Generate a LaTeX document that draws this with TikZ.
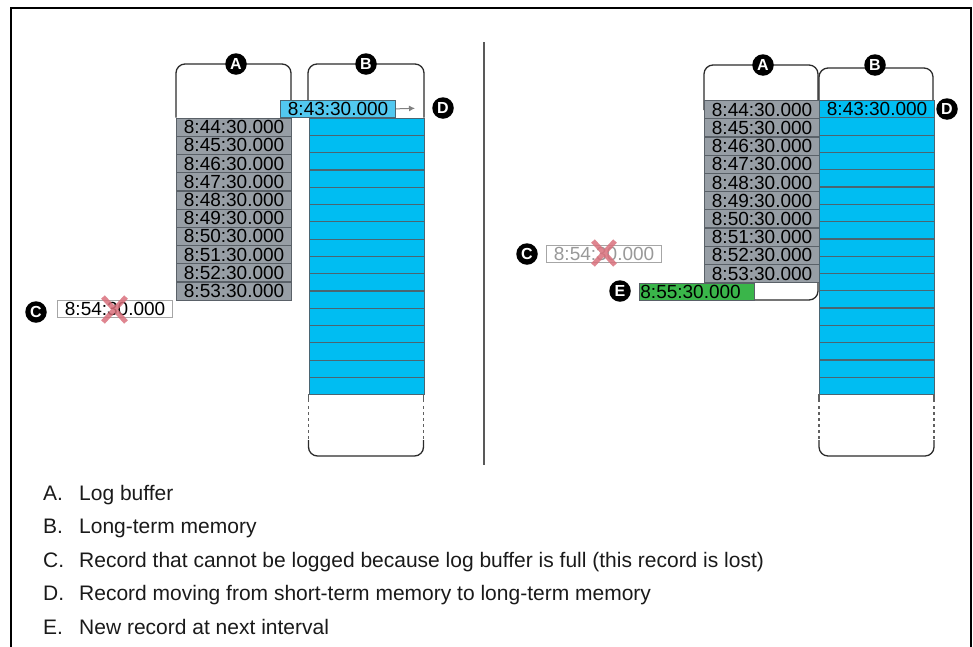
\documentclass[tikz,border=0pt]{standalone}
\usepackage{fontspec}
\setmainfont{Liberation Sans}
\usetikzlibrary{arrows.meta,positioning}
\definecolor{loggray}{HTML}{979EA5}
\definecolor{logedge}{HTML}{5A6168}
\definecolor{memblue}{HTML}{00BDF2}
\definecolor{memedge}{HTML}{4A6572}
\definecolor{moveblue}{HTML}{52C8F0}
\definecolor{newgreen}{HTML}{3AB54A}
\definecolor{lostred}{HTML}{D9707C}
\definecolor{outline}{HTML}{2B2B2B}
\definecolor{keytext}{HTML}{1A1A1A}

\begin{document}
\begin{tikzpicture}[x=1pt, y=-1pt,
  cell/.style={font=\fontsize{19}{19}\selectfont, anchor=north west, minimum width=115pt,
               inner sep=0pt, line width=1.2pt},
  logcell/.style={cell, minimum height=18.2pt, fill=loggray, draw=logedge},
  memcell/.style={cell, minimum height=17.29pt, fill=memblue, draw=memedge},
  movecell/.style={cell, minimum height=17.5pt, fill=moveblue, draw=memedge},
  newcell/.style={cell, minimum height=17.5pt, fill=newgreen, draw=logedge},
  lostcell/.style={cell, minimum height=17pt, fill=white, draw=gray!70},
  bracket/.style={draw=outline, line width=1.3pt, rounded corners=9pt},
  memside/.style={draw=gray!75!black, line width=1.3pt},
  tag/.style={circle, fill=black, text=white, font=\bfseries\fontsize{16}{16}\selectfont,
              minimum size=21.5pt, inner sep=0pt},
  lost/.style={draw=lostred, line width=5pt, opacity=0.85},
  arr/.style={-{Latex[length=6pt,width=6pt]}, draw=gray, line width=1pt},
  key/.style={anchor=base west, text=keytext, font=\fontsize{21}{21}\selectfont, inner sep=0pt},
]
\useasboundingbox (0,0) rectangle (973,646);
\draw[line width=2pt] (11,670) -- (11,8) -- (971,8) -- (971,670);
\draw[line width=2pt, draw=gray!70!black] (484,42) -- (484,465);

% left: buffer full
\draw[bracket] (176,117.5) |- (291,64) -- (291,117.5);
\draw[bracket] (308,117.5) |- (424,64) -- (424,117.5);
\foreach \m [count=\i from 0] in {44,...,53}
  \node[logcell] (la\i) at (176,117.5+18.2*\i) {8:\m:30.000};
\foreach \i in {0,...,15}
  \node[memcell] (lb\i) at (308.5,117.5+17.29*\i) {};
\draw[memside] (308.5,394) -- (308.5,402) (423.5,394) -- (423.5,402);
\draw[memside, dashed] (308.5,406) -- (308.5,440) (423.5,406) -- (423.5,440);
\draw[bracket] (308.5,440) |- (423.5,456) -- (423.5,440);
\node[movecell] (ld) at (280,99.5) {8:43:30.000};
\coordinate (ldend) at (415,108.3);
\draw[arr] (ld.east) -- (ldend);
\node[lostcell] (lc) at (57,300) {8:54:30.000};
\draw[lost] (103,297) -- (126,322) (126,297) -- (103,322);
\node[tag] (tagA1) at (236,64) {A};
\node[tag] (tagB1) at (366,64) {B};
\node[tag] (tagC1) at (36,312) {C};
\node[tag] (tagD1) at (443,108) {D};

% right: next interval
\draw[bracket] (704,110) |- (818,65) |- (754,300);
\draw[bracket] (819,110) |- (933,68) -- (933,110);
\foreach \m [count=\i from 0] in {44,...,53}
  \node[logcell] (ra\i) at (704,100+18.2*\i) {8:\m:30.000};
\node[memcell] (rd) at (819,100) {8:43:30.000};
\foreach \i in {1,...,16}
  \node[memcell] (rb\i) at (819,100+17.29*\i) {};
\draw[memside] (819,394) -- (819,402) (934,394) -- (934,402);
\draw[memside, dashed] (819,406) -- (819,440) (934,406) -- (934,440);
\draw[bracket] (819,440) |- (934,456) -- (934,440);
\node[lostcell, text=gray!80] (rc) at (546,245) {8:54:30.000};
\draw[lost] (593,241) -- (615,265) (615,241) -- (593,265);
\node[newcell] (re) at (639,282.5) {\hspace*{-13pt}8:55:30.000};
\node[tag] (tagA2) at (763,65) {A};
\node[tag] (tagB2) at (875,65) {B};
\node[tag] (tagC2) at (527,254) {C};
\node[tag] (tagD2) at (947,109) {D};
\node[tag] (tagE2) at (620,291) {E};

% key
\foreach \k/\t [count=\i from 0] in {A/Log buffer, B/Long-term memory,
    C/Record that cannot be logged because log buffer is full (this record is lost),
    D/Record moving from short-term memory to long-term memory,
    E/New record at next interval} {
  \node[key] (key\k) at (43,500+33.6*\i) {\k.};
  \node[key] (text\k) at (79,500+33.6*\i) {\t};
}
\end{tikzpicture}
\end{document}
